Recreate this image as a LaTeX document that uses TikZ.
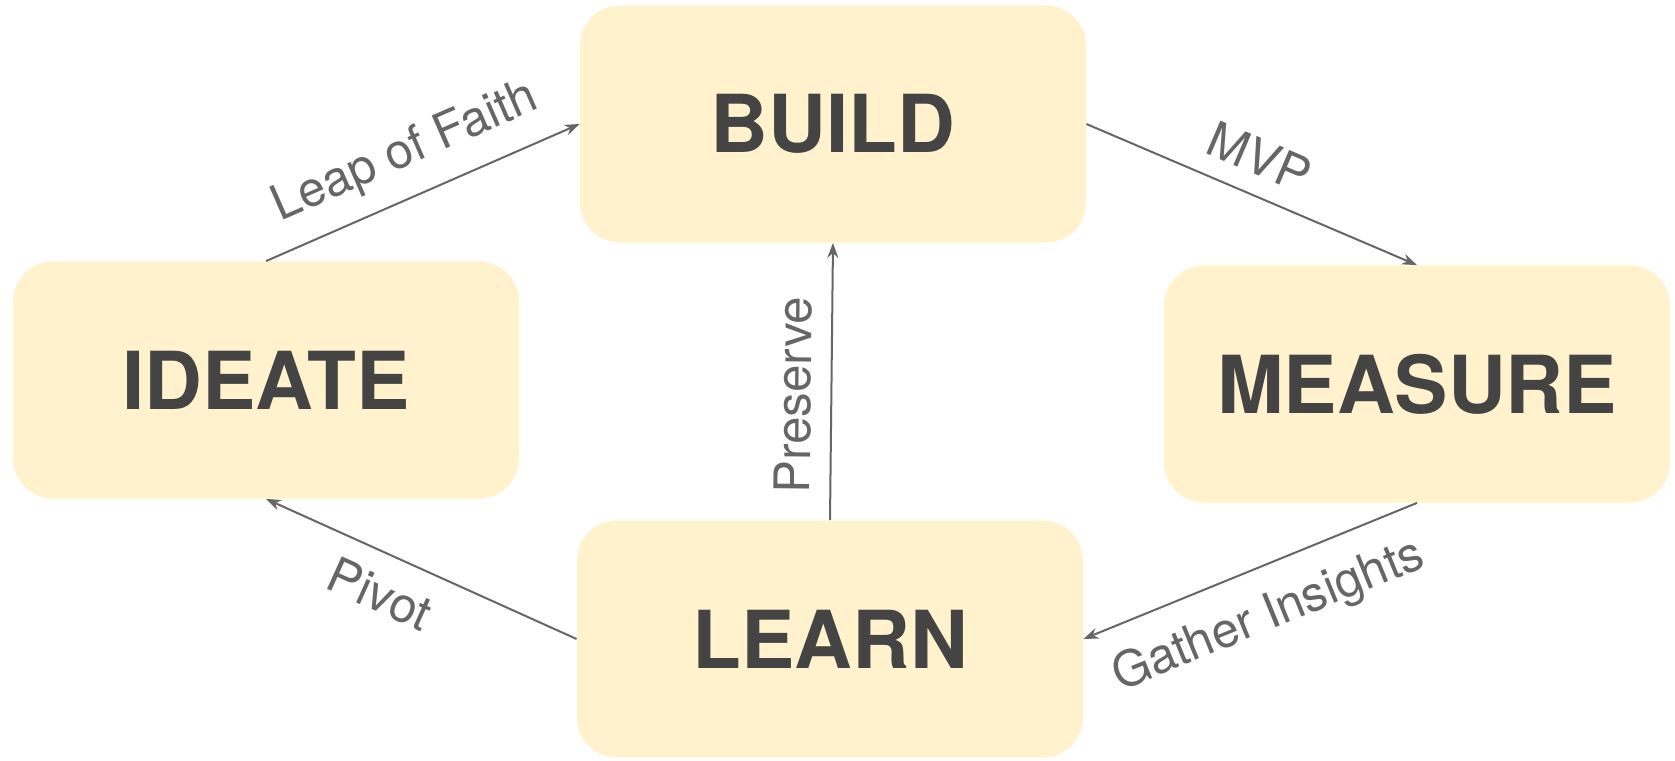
\documentclass[tikz,border=0pt]{standalone}
\usepackage{fontspec}
\setmainfont{TeX Gyre Heros}
\usetikzlibrary{arrows.meta}
\definecolor{boxfill}{HTML}{FFF2CC}
\definecolor{boxtext}{HTML}{444444}
\definecolor{linegray}{HTML}{666666}
\tikzset{
  stage/.style={fill=boxfill, rounded corners=20pt, minimum width=253pt,
    minimum height=118.5pt, text=boxtext, font=\fontsize{40}{48}\selectfont\bfseries},
  flow/.style={draw=linegray, line width=1pt, -{Stealth[length=7.5pt,width=5.5pt]}},
  flowlabel/.style={sloped, text=linegray, font=\fontsize{24.5}{29}\selectfont}
}

\begin{document}
\begin{tikzpicture}[x=0.5pt,y=-0.5pt]
    \useasboundingbox (0,0) rectangle (1675,760);
    \foreach \name/\txt/\x/\y in {build/BUILD/833/124, ideate/IDEATE/266/380,
      measure/MEASURE/1417/384, learn/LEARN/830/639}{%
      \node[stage] (\name) at (\x,\y) {\txt};
    }
    \draw[flow] (ideate.north) -- node[flowlabel, above=6pt] {Leap of Faith} (build.west);
    \draw[flow] (build.east) -- node[flowlabel, above=6pt, pos=0.48] {MVP} (measure.north);
    \draw[flow] (learn.north) -- node[flowlabel, above=6pt, pos=0.45] {Preserve} (build.south);
    \draw[flow] (measure.south) -- node[flowlabel, below=9pt] {Gather Insights} (learn.east);
    \draw[flow] (learn.west) -- node[flowlabel, below=7pt, pos=0.58] {Pivot} (ideate.south);


\end{tikzpicture}
\end{document}
